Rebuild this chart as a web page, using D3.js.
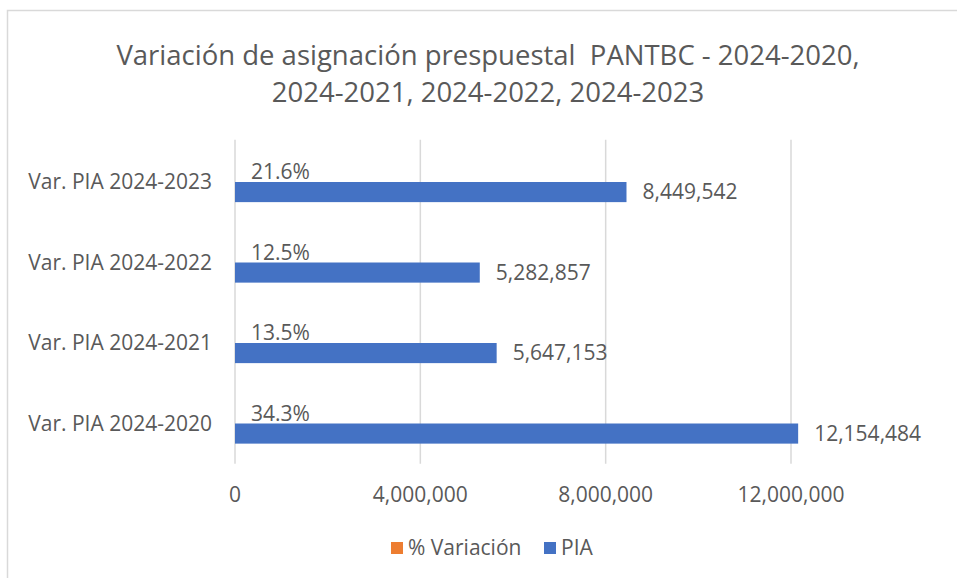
<!DOCTYPE html>
<html>
<head>
<meta charset="utf-8">
<script src="https://cdn.jsdelivr.net/npm/d3@7"></script>
<style>
  body { margin: 0; background: #fff; }
  svg text { font-family: "Open Sans", "Noto Sans", sans-serif; fill: #595959; }
</style>
</head>
<body>
<div id="chart"></div>
<script>
// data (top to bottom)
const categories = ["Var. PIA 2024-2023", "Var. PIA 2024-2022", "Var. PIA 2024-2021", "Var. PIA 2024-2020"];
const piaValues = [8449542, 5282857, 5647153, 12154484];
const variacionValues = [0.216, 0.125, 0.135, 0.343];
const seriesNames = ["% Variación", "PIA"];
const seriesColors = ["#ED7D31", "#4472C4"];
const xTicks = [0, 4000000, 8000000, 12000000];
const titleLines = ["Variación de asignación prespuestal  PANTBC - 2024-2020,", "2024-2021, 2024-2022, 2024-2023"];

const W = 957, H = 578;
const plot = { left: 235, right: 791, top: 141.75, bottom: 463.75 };

const svg = d3.select("#chart").append("svg")
    .attr("width", W)
    .attr("height", H);

// chart area border (runs off the right and bottom edges)
svg.append("rect")
    .attr("x", 7.5).attr("y", 10.5)
    .attr("width", W + 20).attr("height", H + 20)
    .attr("fill", "#fff")
    .attr("stroke", "#d9d9d9")
    .attr("stroke-width", 1.5);

// title (keeps the double space of the original)
svg.append("text")
    .attr("text-anchor", "middle")
    .style("font-size", "27.5px")
    .style("white-space", "pre")
    .selectAll("tspan")
    .data(titleLines)
    .join("tspan")
    .attr("x", 488)
    .attr("y", (d, i) => 65 + i * 37)
    .text(d => d);

// scales
const x = d3.scaleLinear()
    .domain([0, 12000000])
    .range([plot.left, plot.right]);

const y = d3.scaleBand()
    .domain(categories)
    .range([plot.top, plot.bottom])
    .paddingInner(0.5)
    .paddingOuter(0.25);

const ySub = d3.scaleBand()
    .domain(seriesNames)
    .range([0, y.bandwidth()]);

const color = d3.scaleOrdinal().domain(seriesNames).range(seriesColors);

// gridlines
svg.append("g")
    .selectAll("line")
    .data(xTicks)
    .join("line")
    .attr("x1", d => x(d)).attr("x2", d => x(d))
    .attr("y1", plot.top - 2).attr("y2", plot.bottom)
    .attr("stroke", "#d9d9d9")
    .attr("stroke-width", 1.5);

// x axis labels
svg.append("g")
    .selectAll("text")
    .data(xTicks)
    .join("text")
    .attr("x", d => x(d))
    .attr("y", 495)
    .attr("dy", "0.35em")
    .attr("text-anchor", "middle")
    .style("font-size", "21px")
    .text(d => d3.format(",")(d));

// category labels
svg.append("g")
    .selectAll("text")
    .data(categories)
    .join("text")
    .attr("x", 212)
    .attr("y", d => y(d) + y.bandwidth() / 2)
    .attr("dy", "0.35em")
    .attr("text-anchor", "end")
    .style("font-size", "21px")
    .text(d => d);

// rows: one entry per category and series
const rows = [];
categories.forEach((c, i) => {
    rows.push({ cat: c, series: "% Variación", value: variacionValues[i], label: d3.format(".1%")(variacionValues[i]) });
    rows.push({ cat: c, series: "PIA", value: piaValues[i], label: d3.format(",")(piaValues[i]) });
});

// bars
svg.append("g")
    .selectAll("rect")
    .data(rows)
    .join("rect")
    .attr("x", x(0))
    .attr("y", d => y(d.cat) + ySub(d.series))
    .attr("width", d => x(d.value) - x(0))
    .attr("height", ySub.bandwidth())
    .attr("fill", d => color(d.series));

// data labels
svg.append("g")
    .selectAll("text")
    .data(rows)
    .join("text")
    .attr("x", d => x(d.value) + 16)
    .attr("y", d => y(d.cat) + ySub(d.series) + ySub.bandwidth() / 2)
    .attr("dy", "0.35em")
    .style("font-size", "21px")
    .text(d => d.label);

// legend
const legend = svg.append("g").attr("transform", "translate(391,548)");
const legendX = [0, 153];
const item = legend.selectAll("g")
    .data(seriesNames)
    .join("g")
    .attr("transform", (d, i) => `translate(${legendX[i]},0)`);
item.append("rect")
    .attr("x", 0).attr("y", -6)
    .attr("width", 12).attr("height", 12)
    .attr("fill", d => color(d));
item.append("text")
    .attr("x", 17)
    .attr("dy", "0.35em")
    .style("font-size", "21px")
    .text(d => d);
</script>
</body>
</html>
